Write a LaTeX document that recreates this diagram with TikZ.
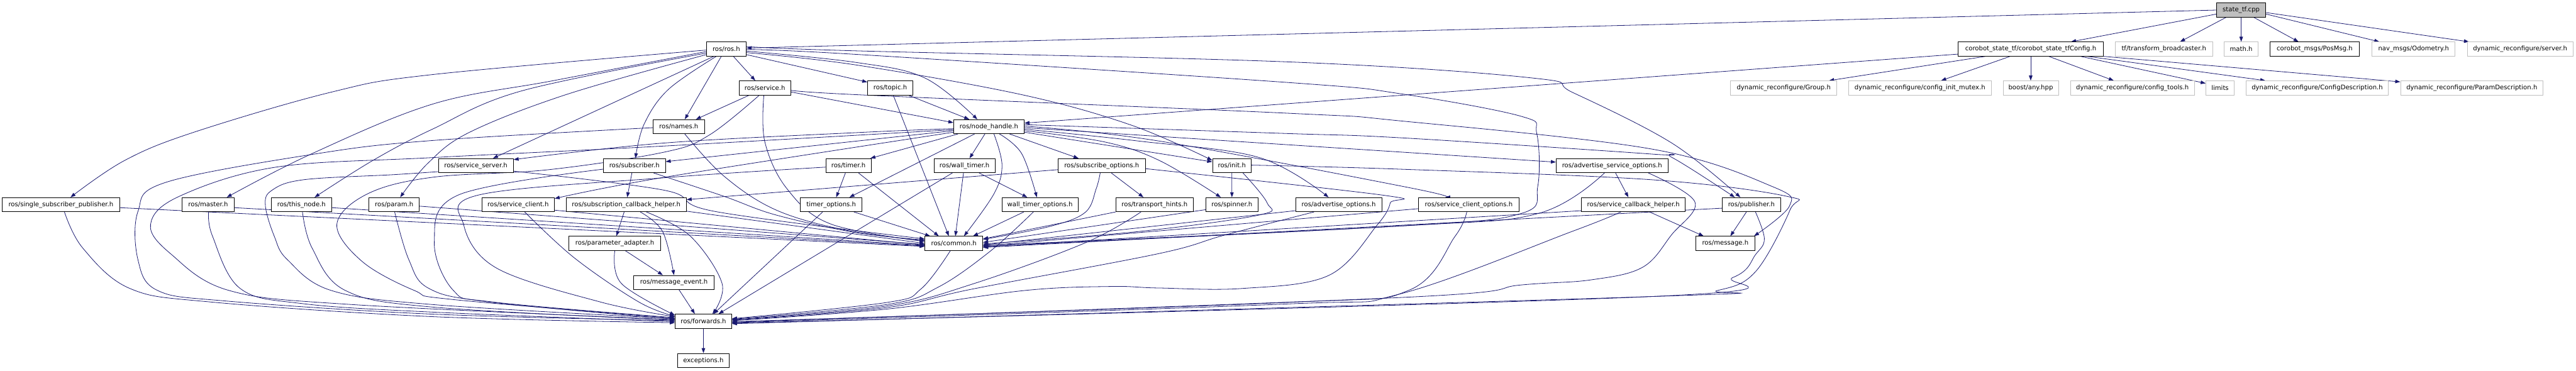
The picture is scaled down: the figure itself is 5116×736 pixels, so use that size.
\documentclass[tikz,border=0pt]{standalone}
\usepackage{fontspec}
\setmainfont{DejaVu Sans}
\usetikzlibrary{calc,arrows.meta}
\definecolor{edgec}{RGB}{25,25,112}
\definecolor{gborder}{RGB}{191,191,191}
\newcommand\gfont{\fontsize{12.6pt}{15pt}\selectfont}
\pgfdeclarelayer{edges}
\pgfsetlayers{edges,main}
\tikzset{
  box/.style={draw=black, line width=1pt, fill=white, minimum height=28pt, inner sep=0pt, font=\gfont},
  gbox/.style={box, draw=gborder},
  e/.style={draw=edgec, line width=1pt, -{Triangle[length=10pt,width=7pt]}},
  sm/.style={smooth, tension=0.6}
}
\begin{document}
\begin{tikzpicture}[x=1pt,y=-1pt]
\useasboundingbox (0,0) rectangle (5116,736);
% row 0
\node[box, fill=gborder, minimum width=98pt] (stf) at (4451,20) {state\_tf.cpp};
% row 1
\node[box, minimum width=79pt] (ros) at (1442.5,97.5) {ros/ros.h};
\node[box, minimum width=288pt] (cfg) at (4033,97.5) {corobot\_state\_tf/corobot\_state\_tfConfig.h};
\node[gbox, minimum width=193pt] (tfb) at (4297.5,97.5) {tf/transform\_broadcaster.h};
\node[gbox, minimum width=68pt] (math) at (4451,97.5) {math.h};
\node[box, minimum width=178pt] (pos) at (4597,97.5) {corobot\_msgs/PosMsg.h};
\node[gbox, minimum width=165pt] (odo) at (4793.5,97.5) {nav\_msgs/Odometry.h};
\node[gbox, minimum width=210pt] (dsrv) at (5005,97.5) {dynamic\_reconfigure/server.h};
% row 2
\node[box, minimum width=102pt] (service) at (1519,174.6) {ros/service.h};
\node[box, minimum width=90pt] (topic) at (1768,174.6) {ros/topic.h};
\node[gbox, minimum width=211pt] (group) at (3542.5,174.6) {dynamic\_reconfigure/Group.h};
\node[gbox, minimum width=283pt] (mutex) at (3813,174.6) {dynamic\_reconfigure/config\_init\_mutex.h};
\node[gbox, minimum width=110pt] (any) at (4033,174.6) {boost/any.hpp};
\node[gbox, minimum width=246pt] (tools) at (4235,174.6) {dynamic\_reconfigure/config\_tools.h};
\node[gbox, minimum width=56pt] (limits) at (4409,174.6) {limits};
\node[gbox, minimum width=282pt] (cdesc) at (4602,174.6) {dynamic\_reconfigure/ConfigDescription.h};
\node[gbox, minimum width=283pt] (pdesc) at (4909,174.6) {dynamic\_reconfigure/ParamDescription.h};
% row 3
\node[box, minimum width=102pt] (names) at (1348,251.6) {ros/names.h};
\node[box, minimum width=140pt] (nh) at (1964,251.6) {ros/node\_handle.h};
% row 4
\node[box, minimum width=149pt] (ssrv) at (945,329) {ros/service\_server.h};
\node[box, minimum width=123pt] (sub) at (1260,329) {ros/subscriber.h};
\node[box, minimum width=90pt] (timer) at (1685,329) {ros/timer.h};
\node[box, minimum width=121pt] (wt) at (1915.5,329) {ros/wall\_timer.h};
\node[box, minimum width=173pt] (so) at (2188,329) {ros/subscribe\_options.h};
\node[box, minimum width=77pt] (init) at (2446.5,329) {ros/init.h};
\node[box, minimum width=222pt] (aso) at (3201.5,329) {ros/advertise\_service\_options.h};
% row 5
\node[box, minimum width=233pt] (ssp) at (121,406.5) {ros/single\_subscriber\_publisher.h};
\node[box, minimum width=103pt] (master) at (413.3,406.5) {ros/master.h};
\node[box, minimum width=120pt] (thisn) at (598.7,406.5) {ros/this\_node.h};
\node[box, minimum width=100pt] (param) at (782.8,406.5) {ros/param.h};
\node[box, minimum width=144pt] (scl) at (1029,406.5) {ros/service\_client.h};
\node[box, minimum width=239pt] (sch) at (1243.6,406.5) {ros/subscription\_callback\_helper.h};
\node[box, minimum width=122.5pt] (to) at (1650.8,406.5) {timer\_options.h};
\node[box, minimum width=151.5pt] (wto) at (2065.3,406.5) {wall\_timer\_options.h};
\node[box, minimum width=154pt] (th) at (2293,406.5) {ros/transport\_hints.h};
\node[box, minimum width=104pt] (spin) at (2446.6,406.5) {ros/spinner.h};
\node[box, minimum width=171pt] (ao) at (2658.6,406.5) {ros/advertise\_options.h};
\node[box, minimum width=199pt] (sco) at (2917,406.5) {ros/service\_client\_options.h};
\node[box, minimum width=206pt] (scbh) at (3244,406.5) {ros/service\_callback\_helper.h};
\node[box, minimum width=115pt] (pub) at (3478.4,406.5) {ros/publisher.h};
% row 6
\node[box, minimum width=183pt] (pa) at (1221,483.5) {ros/parameter\_adapter.h};
\node[box, minimum width=115pt] (common) at (1894.4,483.5) {ros/common.h};
\node[box, minimum width=117pt] (msg) at (3426.5,483.5) {ros/message.h};
% row 7-9
\node[box, minimum width=160pt] (me) at (1338.5,561) {ros/message\_event.h};
\node[box, minimum width=112.5pt] (fwd) at (1397,638) {ros/forwards.h};
\node[box, minimum width=102.5pt] (exc) at (1397,716) {exceptions.h};

\begin{pgfonlayer}{edges}
% state_tf.cpp
\draw[e] (stf.west) -- ($(ros.east)+(0,-2)$);
\draw[e] ($(stf.west)+(0,8)$) -- ($(cfg.north)+(80,0)$);
\draw[e] ($(stf.south)+(-30,0)$) -- ($(tfb.north)+(32,0)$);
\draw[e] (stf.south) -- (math.north);
\draw[e] ($(stf.south)+(25,0)$) -- ($(pos.north)+(-32,0)$);
\draw[e] ($(stf.east)+(0,8)$) -- ($(odo.north)+(-68,0)$);
\draw[e] ($(stf.east)+(0,5)$) -- ($(dsrv.north west)+(4,0)$);
% config
\draw[e] ($(cfg.west)+(0,10)$) -- ($(nh.east)+(0,-7)$);
\draw[e] ($(cfg.south)+(-90,0)$) -- ($(group.north)+(90,0)$);
\draw[e] ($(cfg.south)+(-41,0)$) -- ($(mutex.north)+(42,0)$);
\draw[e] (cfg.south) -- (any.north);
\draw[e] ($(cfg.south)+(36,0)$) -- ($(tools.north)+(-37,0)$);
\draw[e] ($(cfg.south)+(99,0)$) -- ($(limits.west)+(0,-9)$);
\draw[e] ($(cfg.south)+(113,0)$) -- ($(cdesc.north)+(-103,0)$);
\draw[e] (cfg.south east) -- ($(pdesc.west)+(0,-12)$);
% ros/ros.h
\draw[e] plot[sm] coordinates {($(ros.west)+(0,2)$) (860,148) (658,183) (384,263) (247,319) ($(ssp.north)+(19,0)$)};
\draw[e] plot[sm] coordinates {($(ros.west)+(0,5)$) (1100,160) (860,206.5) (620,305) ($(master.north)+(37,0)$)};
\draw[e] plot[sm] coordinates {($(ros.west)+(0,8)$) (1038,180) (860,256) (740,319) ($(thisn.north)+(26,0)$)};
\draw[e] plot[sm] coordinates {($(ros.west)+(0,11)$) (1124,188) (932,263) (850,324) ($(param.north)+(12,0)$)};
\draw[e] ($(ros.south west)+(15,0)$) -- ($(ssrv.north)+(34,0)$);
\draw[e] plot[sm] coordinates {($(ros.south west)+(20,0)$) (1327,178) (1279,247) ($(sub.north)+(2,0)$)};
\draw[e] ($(ros.south)+(-10,0)$) -- ($(names.north)+(12,0)$);
\draw[e] ($(ros.south)+(14,0)$) -- ($(service.north)+(-19,0)$);
\draw[e] ($(ros.east)+(0,11)$) -- ($(topic.north west)+(0,3)$);
\draw[e] plot[sm] coordinates {($(ros.east)+(0,4)$) (1700,124) (1837,155) ($(nh.north)+(-23,0)$)};
\draw[e] plot[sm] coordinates {($(ros.east)+(0,7)$) (1700,129) (2029,188) (2248,249) ($(init.north west)+(0,4)$)};
\draw[e] plot[sm] coordinates {($(ros.east)+(0,-5)$) (1700,101) (2560,123) (3044,155) (3124,184) (3320,284) ($(pub.north)+(-22,0)$)};
\draw[e] plot[sm] coordinates {($(ros.east)+(0,1)$) (1700,108) (2560,164) (2780,186) (3021,231) (3052,265) (3054,370) (3021,424) (2780,449) ($(common.east)+(0,4)$)};
% ros/service.h
\draw[e] ($(service.south)+(-31,0)$) -- ($(names.north)+(34,0)$);
\draw[e] ($(service.east)+(0,8)$) -- ($(nh.west)+(0,-8)$);
\draw[e] plot[sm] coordinates {($(service.east)+(0,3)$) (1700,188) (2560,225) (2780,240) (3280,296) (3521,371) (3554,409) ($(msg.north)+(57,0)$)};
\draw[e] plot[sm] coordinates {($(service.south)+(-11,0)$) (1409,268) (1320,302) (1090,337) (860,352) (730,385) (669,446) (720,520) (823,577) (900,595) ($(fwd.west)+(0,-6)$)};
\draw[e] plot[sm] coordinates {($(service.south)+(-2,0)$) (1519,282) (1563,375) (1650,445) ($(common.west)+(0,-4)$)};
% ros/names.h
\draw[e] plot[sm] coordinates {($(names.west)+(0,2)$) (860,279) (631,305) (330,362) (274,420) (274,516) (313,577) (450,598) (860,624) ($(fwd.west)+(0,-1)$)};
\draw[e] plot[sm] coordinates {($(names.south)+(12,0)$) (1438,350) (1541,417) (1679,457) ($(common.west)+(0,-5)$)};
% ros/topic.h
\draw[e] ($(topic.south)+(36,0)$) -- ($(nh.north)+(-39,0)$);
\draw[e] ($(topic.south)+(6,0)$) -- ($(common.north)+(-10,0)$);
% ros/node_handle.h
\draw[e] plot[sm] coordinates {($(nh.west)+(0,4)$) (1710,263) (1320,284) ($(ssrv.east)+(0,-12)$)};
\draw[e] plot[sm] coordinates {($(nh.west)+(0,6)$) (1320,290) (860,313) (548,332) (356,390) (299,446) (340,505) (455,577) (700,605) ($(fwd.west)+(0,-3)$)};
\draw[e] ($(nh.west)+(0,8)$) -- ($(sub.east)+(0,-8)$);
\draw[e] plot[sm] coordinates {($(nh.west)+(0,11)$) (1320,352) ($(scl.east)+(0,-12)$)};
\draw[e] ($(nh.south west)+(9,0)$) -- ($(timer.north east)+(-2,0)$);
\draw[e] ($(nh.south west)+(42,0)$) -- ($(to.north)+(36,0)$);
\draw[e] ($(nh.south)+(-8,0)$) -- ($(wt.north)+(10,0)$);
\draw[e] plot[sm] coordinates {($(nh.south)+(10,0)$) (1990,328) (1974,385) ($(common.north)+(20,0)$)};
\draw[e] plot[sm] coordinates {($(nh.south)+(21,0)$) (2029,305) ($(wto.north)+(-6,0)$)};
\draw[e] ($(nh.south)+(41,0)$) -- ($(so.north)+(-46,0)$);
\draw[e] ($(nh.east)+(0,11)$) -- ($(init.north west)+(0,7)$);
\draw[e] plot[sm] coordinates {($(nh.east)+(0,8)$) (2194,282) (2303,319) ($(spin.north)+(-22,0)$)};
\draw[e] plot[sm] coordinates {($(nh.east)+(0,5)$) (2260,280) (2501,313) ($(ao.north)+(-20,0)$)};
\draw[e] ($(nh.east)+(0,2)$) -- ($(aso.west)+(0,-7)$);
\draw[e] plot[sm] coordinates {($(nh.east)+(0,-1)$) (2301,280) (2800,373) ($(sco.north)+(-47,0)$)};
\draw[e] plot[sm] coordinates {($(nh.east)+(0,-4)$) (2550,265) (2780,273.6) (3280,306) (3321,313) ($(pub.north)+(-33,0)$)};
% row 5 left nodes
\draw[e] ($(ssp.east)+(0,6)$) -- ($(common.west)+(0,6)$);
\draw[e] plot[sm] coordinates {($(ssp.south)+(7,0)$) (164.6,493) (258,573) (420,600) (860,629) ($(fwd.west)+(0,3)$)};
\draw[e] ($(master.east)+(0,6)$) -- ($(common.west)+(0,5)$);
\draw[e] plot[sm] coordinates {($(master.south)+(1,0)$) (422,469) (477,573) (600,603) (860,620) ($(fwd.west)+(0,1)$)};
\draw[e] ($(thisn.east)+(0,6)$) -- ($(common.west)+(0,4)$);
\draw[e] plot[sm] coordinates {($(thisn.south)+(2,0)$) (620,493) (686,577) (860,610) ($(fwd.west)+(0,-2)$)};
\draw[e] ($(param.east)+(0,3)$) -- ($(common.west)+(0,2)$);
\draw[e] plot[sm] coordinates {($(param.south)+(1,0)$) (812,516) (852,573) (973,600) ($(fwd.west)+(0,-4)$)};
% ros/service_server.h
\draw[e] plot[sm] coordinates {($(ssrv.east)+(0,11)$) (1320,378) (1420,420) ($(common.west)+(0,-9)$)};
\draw[e] plot[sm] coordinates {($(ssrv.west)+(0,12)$) (780,347) (603,357) (540,378) (527,408) (545,470) (571,516) (658,577) (860,605) ($(fwd.west)+(0,-5)$)};
% ros/subscriber.h
\draw[e] ($(sub.south)+(-5,0)$) -- ($(sch.north)+(2,0)$);
\draw[e] plot[sm] coordinates {($(sub.south east)+(-24,0)$) (1438,390) (1541,427) (1700,462) ($(common.west)+(0,-7)$)};
\draw[e] plot[sm] coordinates {($(sub.west)+(0,7)$) (911,387) (862.6,480) (900.5,577) (980,600) ($(fwd.west)+(0,-7)$)};
% ros/timer.h
\draw[e] ($(timer.south)+(-6,0)$) -- ($(to.north)+(10,0)$);
\draw[e] ($(timer.south)+(20,0)$) -- ($(common.north)+(-30,0)$);
\draw[e] plot[sm] coordinates {($(timer.west)+(0,3)$) (1320,353) (952,387) (921,447) (987,533) (1193,600) ($(fwd.west)+(0,-9)$)};
% timer_options.h
\draw[e] ($(to.south)+(45,0)$) -- ($(common.north west)+(11,0)$);
\draw[e] ($(to.south)+(-17,0)$) -- ($(fwd.north)+(20,0)$);
% ros/wall_timer.h
\draw[e] ($(wt.south)+(29,0)$) -- ($(wto.north)+(-25,0)$);
\draw[e] ($(wt.south)+(-2,0)$) -- ($(common.north)+(3,0)$);
\draw[e] ($(wt.south west)+(37,0)$) -- ($(fwd.north)+(30,0)$);
% wall_timer_options.h
\draw[e] ($(wto.south)+(-32,0)$) -- ($(common.north)+(38,0)$);
\draw[e] plot[sm] coordinates {($(wto.south)+(-13,0)$) (1966.6,499) (1863,570.5) (1760,605) ($(fwd.east)+(0,-4)$)};
% ros/transport_hints.h
\draw[e] (th.south west) -- ($(common.east)+(0,-9)$);
\draw[e] plot[sm] coordinates {($(th.south)+(-27,0)$) (2156,482) (1932,564) (1760,608) ($(fwd.east)+(0,-3)$)};
% ros/subscribe_options.h
\draw[e] ($(so.south)+(19,0)$) -- ($(th.north)+(-22,0)$);
\draw[e] plot[sm] coordinates {($(so.south)+(-3,0)$) (2177,375) (2155,422) (2084,450) ($(common.east)+(0,-8)$)};
\draw[e] ($(so.west)+(0,8)$) -- ($(sch.east)+(0,-10)$);
\draw[e] plot[sm] coordinates {($(so.east)+(0,6)$) (2749,388) (2761,403) (2735,447) (2639,547) (2467,573) (2300,572) (2208,569) (2035,577) (1760,614) ($(fwd.east)+(0,-1)$)};
% ros/advertise_options.h
\draw[e] ($(ao.west)+(0,12)$) -- ($(common.east)+(0,3)$);
\draw[e] plot[sm] coordinates {($(ao.south)+(-49,0)$) (2432,467) (2300,504) (1932,574) (1760,611) ($(fwd.east)+(0,-2)$)};
% ros/service_client_options.h
\draw[e] ($(sco.west)+(0,8)$) -- ($(common.east)+(0,5)$);
\draw[e] plot[sm] coordinates {($(sco.south)+(-4,0)$) (2890,469) (2797,577) (2550,601) ($(fwd.east)+(0,1)$)};
% ros/advertise_service_options.h
\draw[e] ($(aso.south)+(7,0)$) -- ($(scbh.north)+(-10,0)$);
\draw[e] plot[sm] coordinates {($(aso.south)+(-15,0)$) (3055,424) (2780,449) ($(common.east)+(0,6)$)};
\draw[e] plot[sm] coordinates {($(aso.south)+(72,0)$) (3366,401) (3320,466) (3262,531) (3159,556) (3021,566) (2780,591) ($(fwd.east)+(0,2)$)};
% ros/service_callback_helper.h
\draw[e] ($(scbh.south)+(32,0)$) -- ($(msg.north)+(-43,0)$);
\draw[e] ($(scbh.west)+(0,12)$) -- ($(common.east)+(0,7)$);
\draw[e] plot[sm] coordinates {($(scbh.south)+(-25,0)$) (3124,459) (2780,584) (2550,604) ($(fwd.east)+(0,3)$)};
% ros/publisher.h
\draw[e] ($(pub.south)+(-10,0)$) -- ($(msg.north)+(10,0)$);
\draw[e] ($(pub.west)+(0,7)$) -- ($(common.east)+(0,8)$);
\draw[e] plot[sm] coordinates {($(pub.south)+(8,0)$) (3504,474) (3487,505) (3442,551) (3280,589) ($(fwd.east)+(0,4)$)};
% ros/init.h
\draw[e] (init.south) -- (spin.north);
\draw[e] plot[sm] coordinates {($(init.south east)+(-17,0)$) (2516.5,403) (2501,427) (2260,460) ($(common.east)+(0,1)$)};
\draw[e] plot[sm] coordinates {($(init.east)+(0,-1)$) (2780,336) (3280,357) (3549,390) (3555,417) (3487,539) (3411,577) (3280,589) ($(fwd.east)+(0,5)$)};
% ros/spinner.h
\draw[e] ($(spin.west)+(0,10)$) -- ($(common.east)+(0,-2)$);
% ros/subscription_callback_helper.h
\draw[e] ($(sch.south)+(-4,0)$) -- ($(pa.north)+(3,0)$);
\draw[e] plot[sm] coordinates {($(sch.south)+(28,0)$) (1316,460) (me.north)};
\draw[e] plot[sm] coordinates {($(sch.south)+(40,0)$) (1371,469) (1434,563) ($(fwd.north)+(18,0)$)};
\draw[e] ($(sch.east)+(0,13)$) -- (common.west);
% ros/parameter_adapter.h
\draw[e] ($(pa.south)+(21,0)$) -- ($(me.north)+(-22,0)$);
\draw[e] plot[sm] coordinates {(pa.south) (1234,563) ($(fwd.west)+(0,-12)$)};
% ros/message_event.h
\draw[e] ($(me.south)+(10,0)$) -- ($(fwd.north)+(-17,0)$);
% ros/service_client.h
\draw[e] ($(scl.east)+(0,11)$) -- ($(common.west)+(0,3)$);
\draw[e] plot[sm] coordinates {($(scl.south)+(13,0)$) (1141.6,513) (1269,600) ($(fwd.west)+(0,-10)$)};
% ros/common.h
\draw[e] plot[sm] coordinates {($(common.south)+(-7,0)$) (1829,574) (1760,601) ($(fwd.east)+(0,-5)$)};
% ros/forwards.h
\draw[e] (fwd.south) -- (exc.north);
\end{pgfonlayer}
\end{tikzpicture}
\end{document}
